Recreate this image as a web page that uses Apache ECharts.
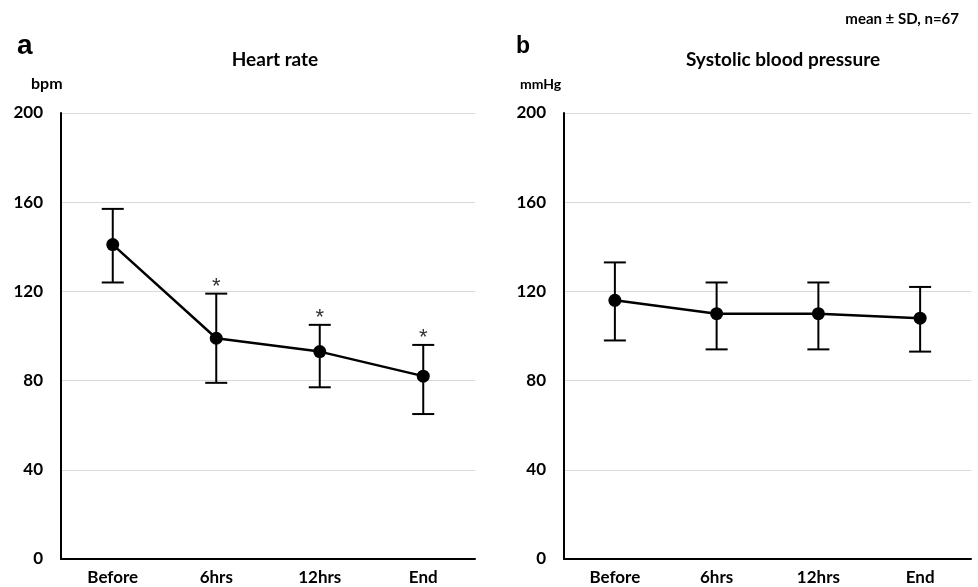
<!DOCTYPE html>
<html><head><meta charset="utf-8">
<script src="https://cdn.jsdelivr.net/npm/echarts@6/dist/echarts.min.js"></script>
<style>html,body{margin:0;padding:0;background:#fff}#c{width:978px;height:587px}</style>
</head><body><div id="c"></div>
<script>
var categories = ['Before', '6hrs', '12hrs', 'End'];
var yTicks = [0, 40, 80, 120, 160, 200];
var hrMean = [141, 99, 93, 82];
var hrUpper = [157, 119, 105, 96];
var hrLower = [124, 79, 77, 65];
var hrSig = [false, true, true, true];
var sbpMean = [116, 110, 110, 108];
var sbpUpper = [133, 124, 124, 122];
var sbpLower = [98, 94, 94, 93];
var sbpSig = [false, false, false, false];

var FONT = 'Lato';
var chart = echarts.init(document.getElementById('c'));

function errData(lo, hi, sig) {
  return categories.map(function (c, i) { return [i, lo[i], hi[i], sig[i] ? 1 : 0]; });
}
function errSeries(idx, lo, hi, sig) {
  return {
    type: 'custom', xAxisIndex: idx, yAxisIndex: idx, z: 1,
    data: errData(lo, hi, sig),
    renderItem: function (params, api) {
      var x = api.value(0);
      var top = api.coord([x, api.value(2)]);
      var bot = api.coord([x, api.value(1)]);
      var hw = 11;
      var st = { stroke: '#000', lineWidth: 2 };
      var ch = [
        { type: 'line', shape: { x1: top[0], y1: top[1], x2: bot[0], y2: bot[1] }, style: st },
        { type: 'line', shape: { x1: top[0] - hw, y1: top[1], x2: top[0] + hw, y2: top[1] }, style: st },
        { type: 'line', shape: { x1: bot[0] - hw, y1: bot[1], x2: bot[0] + hw, y2: bot[1] }, style: st }
      ];
      if (api.value(3)) {
        ch.push({ type: 'text', style: { text: '*', x: top[0], y: top[1] - 7, align: 'center', verticalAlign: 'middle', fill: '#333', font: '22px "Liberation Sans"' } });
      }
      return { type: 'group', children: ch };
    }
  };
}
function lineSeries(idx, vals) {
  return {
    type: 'line', xAxisIndex: idx, yAxisIndex: idx, z: 3, data: vals,
    symbol: 'circle', symbolSize: 13,
    itemStyle: { color: '#000' }, lineStyle: { color: '#000', width: 2.5 }
  };
}
function xAx(idx) {
  return {
    type: 'category', gridIndex: idx, data: categories, boundaryGap: true,
    axisLine: { lineStyle: { color: '#000', width: 2 } }, axisTick: { show: false },
    axisLabel: { color: '#000', fontFamily: FONT, fontWeight: 'bold', fontSize: 17, margin: 10 }
  };
}
function yAx(idx) {
  return {
    type: 'value', gridIndex: idx, min: yTicks[0], max: yTicks[yTicks.length - 1], interval: 40,
    axisLine: { show: true, lineStyle: { color: '#000', width: 2 } }, axisTick: { show: false },
    splitLine: { lineStyle: { color: '#d9d9d9', width: 1 } },
    axisLabel: { color: '#000', fontFamily: FONT, fontWeight: 'bold', fontSize: 17, margin: 18 }
  };
}
var tStyle = function (sz, f) { return { color: '#000', fontFamily: f || FONT, fontWeight: 'bold', fontSize: sz }; };

chart.setOption({
  animation: false,
  backgroundColor: '#fff',
  title: [
    { text: 'a', left: 12, top: 27, textStyle: tStyle(28, 'Liberation Sans') },
    { text: 'Heart rate', left: 270, top: 45, textAlign: 'center', textStyle: tStyle(19) },
    { text: 'bpm', left: 26, top: 71, textStyle: tStyle(16) },
    { text: 'b', left: 511, top: 30, textStyle: tStyle(23, 'Liberation Sans') },
    { text: 'Systolic blood pressure', left: 778, top: 45, textAlign: 'center', textStyle: tStyle(19) },
    { text: 'mmHg', left: 515, top: 72, textStyle: tStyle(14) },
    { text: 'mean \u00b1 SD, n=67', right: 14, top: 7, textStyle: tStyle(15) }
  ],
  grid: [
    { left: 61, right: 503, top: 113, bottom: 28 },
    { left: 564, right: 7, top: 113, bottom: 28 }
  ],
  xAxis: [xAx(0), xAx(1)],
  yAxis: [yAx(0), yAx(1)],
  series: [
    errSeries(0, hrLower, hrUpper, hrSig), lineSeries(0, hrMean),
    errSeries(1, sbpLower, sbpUpper, sbpSig), lineSeries(1, sbpMean)
  ]
});
</script></body></html>
